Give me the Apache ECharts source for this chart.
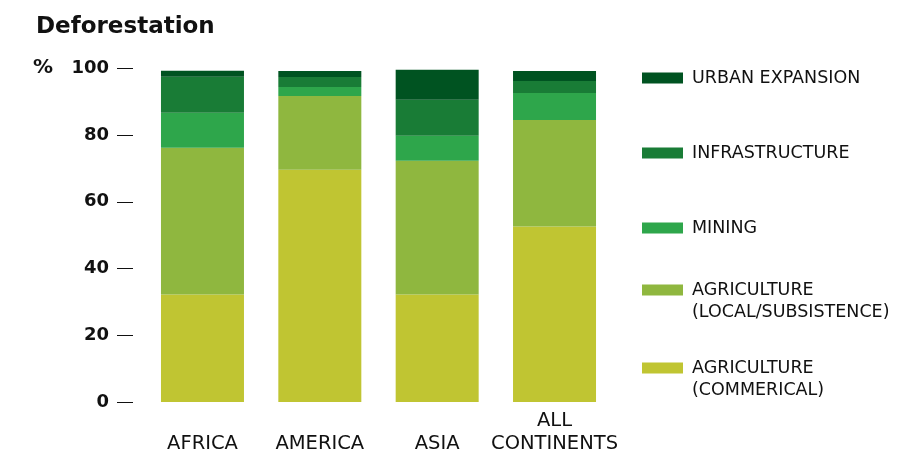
<!DOCTYPE html>
<html>
<head>
<meta charset="utf-8">
<script src="https://cdn.jsdelivr.net/npm/echarts@6/dist/echarts.min.js"></script>
<style>html,body{margin:0;padding:0;background:#fff;}#c{width:903px;height:455px;}</style>
</head>
<body>
<div id="c"></div>
<script>
const categories = ['AFRICA', 'AMERICA', 'ASIA', 'ALL\nCONTINENTS'];
const seriesNames = ['AGRICULTURE\n(COMMERICAL)', 'AGRICULTURE\n(LOCAL/SUBSISTENCE)', 'MINING', 'INFRASTRUCTURE', 'URBAN EXPANSION'];
const agricultureCommercial = [32.2, 69.6, 32.2, 52.6];
const agricultureLocal = [44.0, 22.1, 40.1, 31.9];
const mining = [10.5, 2.7, 7.5, 8.1];
const infrastructure = [10.8, 3.0, 10.8, 3.6];
const urbanExpansion = [1.8, 1.8, 9.0, 3.0];
const yTicks = [0, 20, 40, 60, 80, 100];

const colors = ['#c0c532', '#8fb73f', '#2ea64b', '#197c36', '#005321'];
const values = [agricultureCommercial, agricultureLocal, mining, infrastructure, urbanExpansion];
const FONT = 'DejaVu Sans';

const chart = echarts.init(document.getElementById('c'), null, {renderer: 'canvas'});

// swatch drawn in the upper part of a taller icon box so it lines up with the first text line
const ICON_ONE = 'rect';
const ICON_TWO = 'path://M0,5.5L41,5.5L41,16.5L0,16.5Z M0,0L0,0 M0,44L0,44 M41,0L41,0 M41,44L41,44';

const legendTops = {'URBAN EXPANSION': 67, 'INFRASTRUCTURE': 142, 'MINING': 217,
  'AGRICULTURE\n(LOCAL/SUBSISTENCE)': 279, 'AGRICULTURE\n(COMMERICAL)': 357};

const legends = seriesNames.map(function (n) {
  const two = n.indexOf('\n') >= 0;
  return {
    data: [n], left: 642, top: legendTops[n], orient: 'vertical', padding: 0,
    itemWidth: 41, itemHeight: two ? 44 : 11, itemGap: 0, icon: two ? ICON_TWO : ICON_ONE,
    selectedMode: false,
    textStyle: {fontFamily: FONT, fontSize: 17.5, color: '#111', lineHeight: 22,
      padding: [0, 0, 0, 4]}
  };
});

chart.setOption({
  animation: false,
  color: colors,
  title: [
    {text: 'Deforestation', left: 36, top: 16, padding: 0,
      textStyle: {fontFamily: FONT, fontWeight: 'bold', fontSize: 23, color: '#111'}},
    {text: '%', left: 33, top: 58, padding: 0,
      textStyle: {fontFamily: FONT, fontWeight: 'bold', fontSize: 20, color: '#111'}}
  ],
  legend: legends,
  grid: {left: 143.8, right: 289.8, top: 68.3, bottom: 52.3, containLabel: false},
  xAxis: {
    type: 'category', data: categories,
    axisLine: {show: false}, axisTick: {show: false},
    axisLabel: {fontFamily: FONT, fontSize: 19.5, color: '#111', lineHeight: 23,
      verticalAlign: 'bottom', margin: 53, interval: 0}
  },
  yAxis: {
    type: 'value', min: yTicks[0], max: yTicks[yTicks.length - 1], interval: 20,
    offset: 10.8,
    axisLine: {show: false},
    axisTick: {show: true, length: 16, lineStyle: {color: '#111', width: 1}},
    splitLine: {show: false},
    axisLabel: {fontFamily: FONT, fontWeight: 'bold', fontSize: 18, color: '#111', margin: 24}
  },
  series: seriesNames.map(function (n, i) {
    return {name: n, type: 'bar', stack: 'all', barWidth: 83, data: values[i],
      itemStyle: {color: colors[i]}, emphasis: {disabled: true}};
  })
});
</script>
</body>
</html>
